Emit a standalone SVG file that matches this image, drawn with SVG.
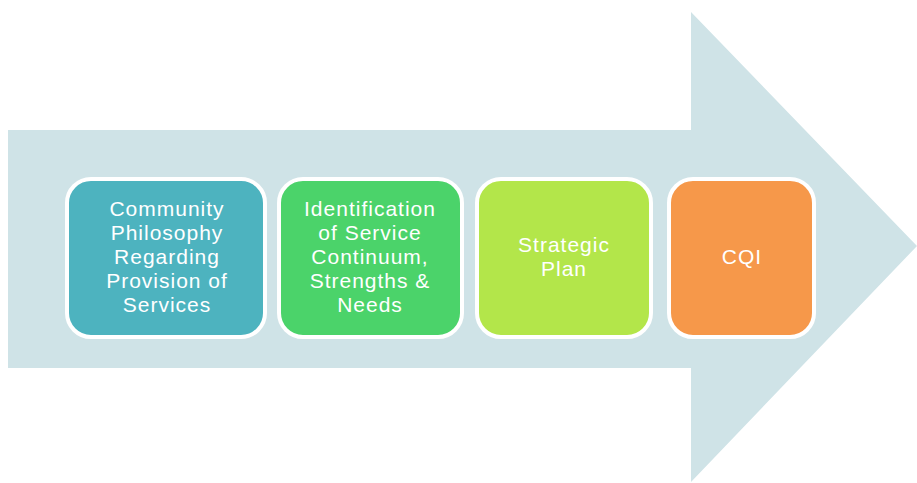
<svg xmlns="http://www.w3.org/2000/svg" width="917" height="483" viewBox="0 0 917 483">
  <style>
    .box { stroke: #ffffff; stroke-width: 4; }
    .lbl { font-family: "Liberation Sans", Arial, sans-serif; font-size: 21px; fill: #ffffff; text-anchor: middle; letter-spacing: 1px; }
  </style>
  <rect width="917" height="483" fill="#ffffff"/>
  <!-- background process arrow -->
  <path id="arrow" d="M8,130 H691 V12 L917,246 L691,482 V368 H8 Z" fill="#cfe3e7"/>
  <g id="connectors"/>
  <g id="n1">
    <rect class="box" x="67" y="179" width="198" height="158" rx="24" fill="#4db3bf"/>
    <text class="lbl" x="167" y="216">Community</text>
    <text class="lbl" x="167" y="240">Philosophy</text>
    <text class="lbl" x="167" y="264">Regarding</text>
    <text class="lbl" x="167" y="288">Provision of</text>
    <text class="lbl" x="167" y="312">Services</text>
  </g>
  <g id="n2">
    <rect class="box" x="279" y="179" width="183" height="158" rx="24" fill="#4bd36a"/>
    <text class="lbl" x="370" y="216">Identification</text>
    <text class="lbl" x="370" y="240">of Service</text>
    <text class="lbl" x="370" y="264">Continuum,</text>
    <text class="lbl" x="370" y="288">Strengths &amp;</text>
    <text class="lbl" x="370" y="312">Needs</text>
  </g>
  <g id="n3">
    <rect class="box" x="477" y="179" width="174" height="158" rx="24" fill="#b3e64a"/>
    <text class="lbl" x="564" y="252">Strategic</text>
    <text class="lbl" x="564" y="276">Plan</text>
  </g>
  <g id="n4">
    <rect class="box" x="669" y="179" width="145" height="158" rx="24" fill="#f6984a"/>
    <text class="lbl" x="742" y="264">CQI</text>
  </g>
</svg>
